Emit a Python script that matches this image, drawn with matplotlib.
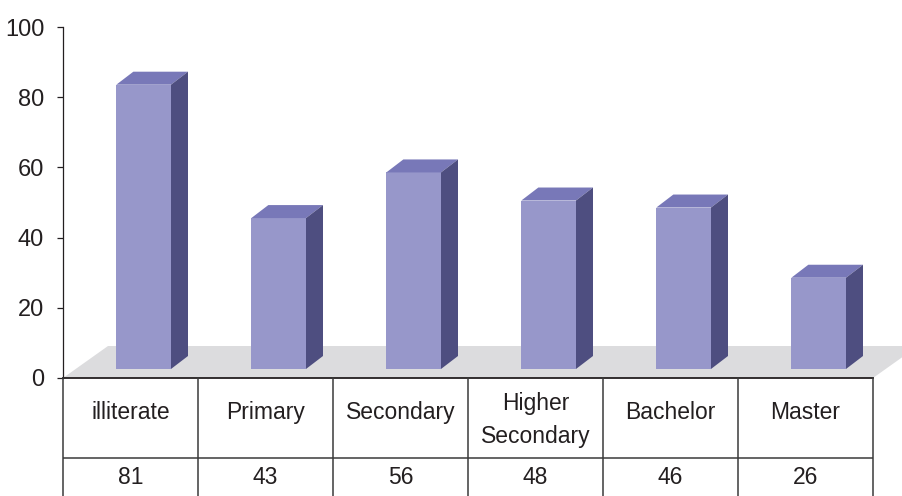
import matplotlib.pyplot as plt
from matplotlib.patches import Polygon

plt.rcParams['font.family'] = ['Liberation Sans Narrow', 'Liberation Sans', 'DejaVu Sans']

categorias = ['illiterate', 'Primary', 'Secondary', 'Higher\nSecondary', 'Bachelor', 'Master']
valores = [81, 43, 56, 48, 46, 26]
yticks = [0, 20, 40, 60, 80, 100]

cor_frente = '#9797CA'
cor_topo = '#7878B8'
cor_lado = '#4E4E80'
cor_chao = '#DCDCDE'
cor_texto = '#231F20'

W, H = 902, 496
fig = plt.figure(figsize=(W / 100, H / 100), dpi=100)

# eixo principal: x em colunas (0..6), y em valores (0..100)
ax = fig.add_axes([63 / W, (H - 378) / H, 810 / W, 351 / H])
ax.set_xlim(0, len(categorias))
ax.set_ylim(0, 100)

px_x = 810 / len(categorias)   # pixels por unidade x
px_y = 351 / 100               # pixels por unidade y

# chao cinza em perspectiva
prof_x, prof_y = 45 / px_x, 32 / px_y
chao = Polygon([(0, 0), (len(categorias), 0),
                (len(categorias) + prof_x, prof_y), (prof_x, prof_y)],
               closed=True, facecolor=cor_chao, edgecolor='none',
               clip_on=False, zorder=1)
ax.add_patch(chao)

# barras 3d
offset = 0.395
largura = 0.405
base = 9 / px_y
dx, dy = 17 / px_x, 13 / px_y
for i, v in enumerate(valores):
    x0 = i + offset
    x1 = x0 + largura
    y0 = base
    y1 = base + v
    frente = Polygon([(x0, y0), (x1, y0), (x1, y1), (x0, y1)],
                     facecolor=cor_frente, edgecolor='none', zorder=3)
    topo = Polygon([(x0, y1), (x1, y1), (x1 + dx, y1 + dy), (x0 + dx, y1 + dy)],
                   facecolor=cor_topo, edgecolor='none', zorder=3)
    lado = Polygon([(x1, y0), (x1 + dx, y0 + dy), (x1 + dx, y1 + dy), (x1, y1)],
                   facecolor=cor_lado, edgecolor='none', zorder=3)
    for p in (frente, topo, lado):
        p.set_clip_on(False)
        ax.add_patch(p)

for s in ['top', 'right', 'bottom']:
    ax.spines[s].set_visible(False)
ax.spines['left'].set_color(cor_texto)
ax.spines['left'].set_linewidth(0.9)
ax.set_xticks([])
ax.set_yticks(yticks)
ax.tick_params(axis='y', length=4.5, width=0.9, color=cor_texto, pad=9,
               labelsize=17, labelcolor=cor_texto)
ax.patch.set_alpha(0)

# tabela de dados abaixo
axt = fig.add_axes([63 / W, 0, 810 / W, (H - 378) / H])
axt.set_xlim(0, len(categorias))
axt.set_ylim(0, 1)
axt.axis('off')

sep = (H - 458) / (H - 378)
axt.axhline(1, color=cor_texto, lw=1.3, clip_on=False)
axt.axhline(sep, color='#3a3a3a', lw=1.1)
for i in range(len(categorias) + 1):
    axt.plot([i, i], [1, 0], color='#3a3a3a', lw=1.1, clip_on=False)

for i, (c, v) in enumerate(zip(categorias, valores)):
    yl = 0.645 if '\n' in c else 0.71
    axt.text(i + 0.5, yl, c, ha='center', va='center', fontsize=16.5,
             color=cor_texto, linespacing=1.55)
    axt.text(i + 0.5, 0.16, str(v), ha='center', va='center', fontsize=16.5,
             color=cor_texto)

plt.savefig('out.png', dpi=100)
plt.close()
